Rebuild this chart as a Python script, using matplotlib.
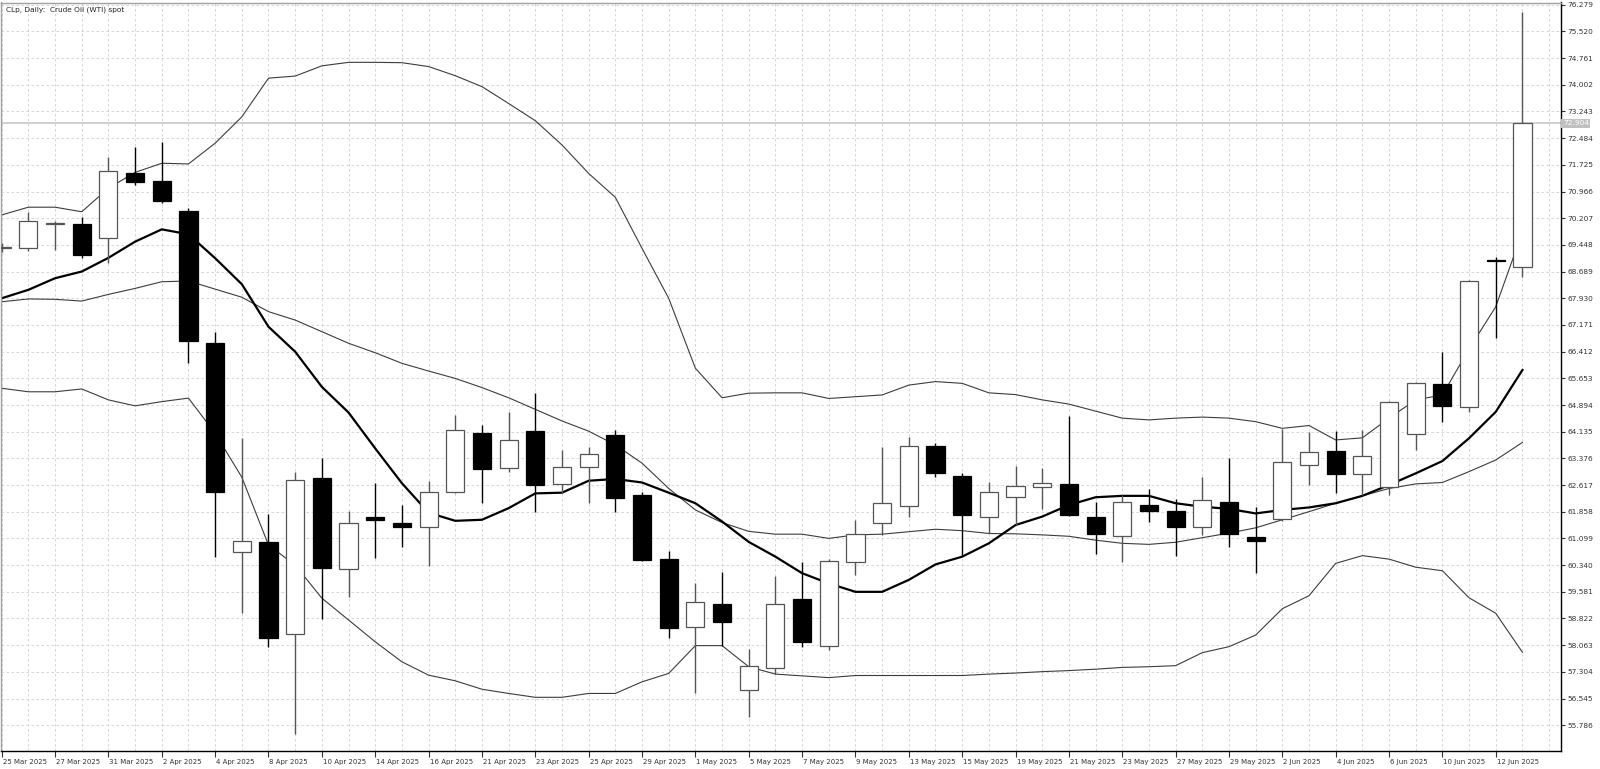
import numpy as np
import matplotlib.pyplot as plt
import matplotlib.transforms as mtransforms

# trading days shown on the chart (CLp daily)
dates = ['25 Mar', '26 Mar', '27 Mar', '28 Mar', '31 Mar', '1 Apr', '2 Apr', '3 Apr',
         '4 Apr', '7 Apr', '8 Apr', '9 Apr', '10 Apr', '11 Apr', '14 Apr', '15 Apr',
         '16 Apr', '17 Apr', '21 Apr', '22 Apr', '23 Apr', '24 Apr', '25 Apr', '28 Apr',
         '29 Apr', '30 Apr', '1 May', '2 May', '5 May', '6 May', '7 May', '8 May',
         '9 May', '12 May', '13 May', '14 May', '15 May', '16 May', '19 May', '20 May',
         '21 May', '22 May', '23 May', '26 May', '27 May', '28 May', '29 May', '30 May',
         '2 Jun', '3 Jun', '4 Jun', '5 Jun', '6 Jun', '9 Jun', '10 Jun', '11 Jun',
         '12 Jun', '13 Jun']

opens = [69.36, 69.35, 70.05, 70.03, 69.65, 71.48, 71.27, 70.42, 66.67, 60.72,
         60.99, 58.37, 62.81, 60.22, 61.70, 61.55, 61.41, 62.43, 64.09, 63.11,
         64.16, 62.64, 63.12, 64.04, 62.33, 60.51, 58.57, 59.23, 56.79, 57.41,
         59.38, 58.05, 60.44, 61.53, 62.03, 63.73, 62.87, 61.72, 62.29, 62.55,
         62.64, 61.72, 61.16, 62.04, 61.88, 61.42, 62.14, 61.15, 61.64, 63.20,
         63.59, 62.92, 62.57, 64.06, 65.49, 64.85, 69.01, 68.81]
highs = [69.50, 70.38, 70.12, 70.23, 71.96, 72.24, 72.38, 70.49, 66.96, 63.95,
         61.79, 62.98, 63.38, 61.88, 62.67, 62.05, 62.74, 64.61, 64.33, 64.70,
         65.23, 63.61, 63.71, 64.18, 62.43, 60.75, 59.82, 60.15, 57.95, 60.03,
         60.44, 60.50, 61.62, 63.71, 63.99, 63.80, 62.97, 62.69, 63.16, 63.09,
         64.58, 62.14, 62.33, 62.50, 62.21, 62.85, 63.38, 62.00, 64.20, 64.14,
         64.15, 64.18, 65.00, 65.56, 66.41, 68.45, 69.09, 76.08]
lows = [69.25, 69.28, 69.30, 69.07, 68.94, 71.15, 70.65, 66.08, 60.56, 58.99,
        58.02, 55.55, 58.81, 59.44, 60.55, 60.86, 60.31, 62.40, 62.12, 63.00,
        61.86, 62.38, 62.10, 61.86, 60.47, 58.26, 56.69, 58.05, 56.02, 57.24,
        58.02, 57.93, 60.06, 61.20, 61.72, 62.85, 60.63, 61.24, 61.48, 61.93,
        61.74, 60.66, 60.44, 61.58, 60.60, 61.20, 60.86, 60.12, 61.60, 62.62,
        62.38, 62.33, 62.33, 63.61, 64.42, 64.70, 66.81, 68.53]
closes = [69.40, 70.13, 70.08, 69.17, 71.55, 71.23, 70.70, 66.71, 62.43, 61.03,
          58.26, 62.76, 60.27, 61.53, 61.61, 61.43, 62.41, 64.18, 63.08, 63.90,
          62.62, 63.12, 63.49, 62.26, 60.49, 58.54, 59.30, 58.71, 57.47, 59.23,
          58.16, 60.46, 61.22, 62.10, 63.73, 62.97, 61.77, 62.43, 62.59, 62.68,
          61.77, 61.22, 62.14, 61.88, 61.42, 62.19, 61.22, 61.03, 63.28, 63.57,
          62.93, 63.45, 64.99, 65.51, 64.87, 68.42, 68.99, 72.904]

# moving average (thick line)
ma = [67.93, 68.17, 68.50, 68.69, 69.08, 69.54, 69.89, 69.75, 69.07, 68.33,
      67.12, 66.41, 65.41, 64.68, 63.66, 62.67, 61.83, 61.60, 61.63, 61.96,
      62.38, 62.40, 62.74, 62.79, 62.69, 62.40, 62.10, 61.58, 61.00, 60.58,
      60.11, 59.82, 59.58, 59.58, 59.92, 60.36, 60.58, 60.96, 61.48, 61.72,
      62.05, 62.27, 62.31, 62.31, 62.10, 62.00, 61.94, 61.81, 61.91, 61.98,
      62.10, 62.31, 62.62, 62.95, 63.30, 63.95, 64.70, 65.89]

# Bollinger bands
bb_upper = [70.30, 70.52, 70.52, 70.39, 71.06, 71.51, 71.77, 71.75, 72.34, 73.09,
            74.19, 74.25, 74.54, 74.64, 74.64, 74.63, 74.52, 74.26, 73.95, 73.47,
            72.98, 72.29, 71.48, 70.80, 69.35, 67.93, 65.94, 65.10, 65.23, 65.24,
            65.24, 65.08, 65.13, 65.18, 65.46, 65.56, 65.51, 65.24, 65.19, 65.04,
            64.92, 64.72, 64.52, 64.47, 64.52, 64.55, 64.52, 64.42, 64.23, 64.31,
            63.90, 63.96, 64.52, 65.04, 65.18, 66.49, 67.69, 69.82]
bb_mid = [67.83, 67.91, 67.90, 67.85, 68.04, 68.21, 68.40, 68.42, 68.19, 67.96,
          67.55, 67.31, 66.98, 66.65, 66.38, 66.08, 65.86, 65.65, 65.39, 65.10,
          64.77, 64.44, 64.15, 63.76, 63.24, 62.52, 61.91, 61.55, 61.30, 61.22,
          61.22, 61.10, 61.20, 61.22, 61.29, 61.36, 61.32, 61.24, 61.23, 61.20,
          61.16, 61.05, 60.96, 60.93, 60.99, 61.12, 61.25, 61.40, 61.63, 61.86,
          62.10, 62.31, 62.52, 62.65, 62.69, 63.00, 63.33, 63.83]
bb_lower = [65.37, 65.27, 65.27, 65.35, 65.04, 64.87, 64.99, 65.09, 64.09, 62.84,
            60.91, 60.34, 59.40, 58.78, 58.16, 57.59, 57.21, 57.05, 56.81, 56.69,
            56.58, 56.58, 56.69, 56.69, 57.02, 57.26, 58.05, 58.05, 57.45, 57.24,
            57.19, 57.14, 57.20, 57.20, 57.20, 57.20, 57.20, 57.24, 57.27, 57.31,
            57.34, 57.38, 57.43, 57.45, 57.48, 57.85, 58.02, 58.35, 59.10, 59.47,
            60.39, 60.61, 60.51, 60.28, 60.18, 59.41, 58.97, 57.86]

y_ticks = [55.786, 56.545, 57.304, 58.063, 58.822, 59.581, 60.340, 61.099, 61.858,
           62.617, 63.376, 64.135, 64.894, 65.653, 66.412, 67.171, 67.930, 68.689,
           69.448, 70.207, 70.966, 71.725, 72.484, 73.243, 74.002, 74.761, 75.520,
           76.279]
last_price = 72.904

plt.rcParams['font.family'] = ['DejaVu Sans']

fig = plt.figure(figsize=(16, 7.69), dpi=100)
ax = fig.add_axes([0.5 / 1600, 18 / 769, 1560.5 / 1600, 748.5 / 769])

x = np.arange(len(dates))
o = np.array(opens)
c = np.array(closes)
bull = c >= o
body_lo = np.minimum(o, c)
body_h = np.abs(c - o)

# grid
grid_kw = dict(color='#cfcfcf', lw=0.6, ls=(0, (3, 3)), zorder=0)
for yt in y_ticks:
    ax.axhline(yt, **grid_kw)
for xi in range(len(dates) + 1):
    ax.axvline(xi, **grid_kw)

# last price line
ax.axhline(last_price, color='#c8c8c8', lw=1.2, zorder=1)

# indicators
ax.plot(x, bb_upper, color='#3c3c3c', lw=0.8, zorder=2)
ax.plot(x, bb_mid, color='#3c3c3c', lw=0.8, zorder=2)
ax.plot(x, bb_lower, color='#3c3c3c', lw=0.8, zorder=2)
ax.plot(x, ma, color='black', lw=1.6, zorder=2)

# candles
wick_col = np.where(bull, '#555555', 'black')
ax.vlines(x, lows, highs, colors=wick_col, lw=1, zorder=3)
ax.bar(x[bull], body_h[bull], bottom=body_lo[bull], width=0.68,
       color='white', edgecolor='#555555', lw=0.9, zorder=4)
ax.bar(x[~bull], body_h[~bull], bottom=body_lo[~bull], width=0.68,
       color='black', edgecolor='black', lw=0.9, zorder=4)

ax.set_xlim(-0.045, 58.445)
ax.set_ylim(55.053, 76.342)

# axes / ticks
ax.set_xticks(x[::2])
ax.set_xticklabels([d + ' 2025' for d in dates[::2]], ha='left')
ax.set_yticks(y_ticks)
ax.set_yticklabels([f'{v:.3f}' for v in y_ticks])
ax.yaxis.tick_right()
ax.tick_params(axis='y', length=3, width=0.8, pad=1.5, labelsize=5.3, colors='#333333')
ax.tick_params(axis='x', length=4, width=0.8, pad=2, labelsize=5.0, colors='#333333')
offset = mtransforms.ScaledTranslation(1 / 100, 0, fig.dpi_scale_trans)
for lbl in ax.get_xticklabels():
    lbl.set_transform(lbl.get_transform() + offset)

for side in ['right', 'bottom']:
    ax.spines[side].set_color('black')
    ax.spines[side].set_linewidth(1)
for side in ['left', 'top']:
    ax.spines[side].set_color('#a0a0a0')
    ax.spines[side].set_linewidth(1)

# current price marker on the scale
ax.text(1.0012, last_price, f'{last_price:.3f}', transform=ax.get_yaxis_transform(),
        ha='left', va='center', fontsize=5.3, color='white',
        bbox=dict(boxstyle='square,pad=0.2', fc='#c0c0c0', ec='none'), zorder=10,
        clip_on=False)

ax.text(0.0035, 0.994, 'CLp, Daily:  Crude Oil (WTI) spot', transform=ax.transAxes,
        ha='left', va='top', fontsize=5.3, color='#222222')

fig.savefig('out.png', dpi=100)
